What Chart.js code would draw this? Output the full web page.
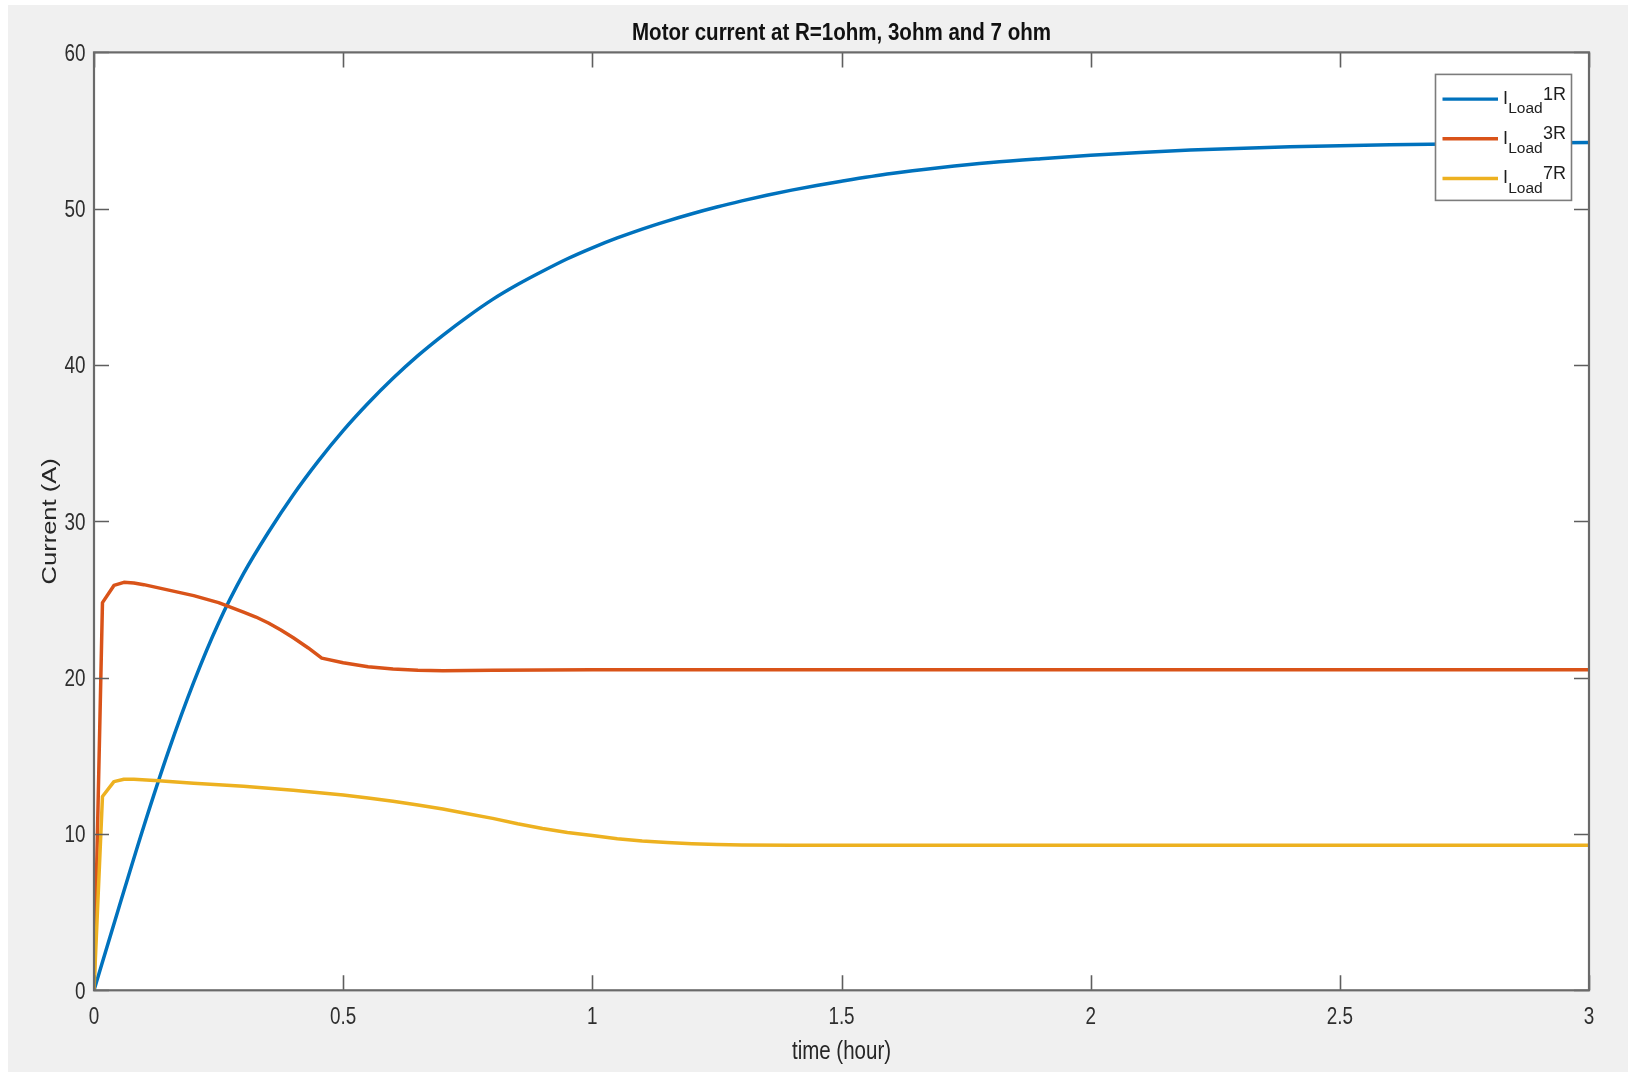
<!DOCTYPE html>
<html>
<head>
<meta charset="utf-8">
<title>Motor current</title>
<script src="https://cdn.jsdelivr.net/npm/chart.js@4.4.1/dist/chart.umd.min.js"></script>
<style>
  html, body { margin: 0; padding: 0; background: #ffffff; overflow: hidden; }
  canvas { display: block; }
</style>
</head>
<body>
<canvas id="chart" width="1628" height="1072"></canvas>
<script>
// Motor current for a load of 1 ohm
const timeR1 = [0, 0.05, 0.1, 0.15, 0.2, 0.25, 0.3, 0.35, 0.4, 0.45, 0.5, 0.55, 0.6, 0.65, 0.7, 0.75,
  0.8, 0.85, 0.9, 0.95, 1.0, 1.05, 1.1, 1.15, 1.2, 1.25, 1.3, 1.35, 1.4, 1.45, 1.5,
  1.6, 1.7, 1.8, 1.9, 2.0, 2.1, 2.2, 2.4, 2.6, 2.8, 3.0];
const currentR1 = [0, 5.3, 10.5, 15.35, 19.7, 23.5, 26.65, 29.3, 31.7, 33.85, 35.8, 37.55, 39.15, 40.6, 41.9, 43.1,
  44.2, 45.15, 46.0, 46.8, 47.5, 48.13, 48.7, 49.21, 49.68, 50.11, 50.5, 50.86, 51.19, 51.49, 51.76,
  52.25, 52.63, 52.95, 53.2, 53.42, 53.6, 53.75, 53.97, 54.1, 54.18, 54.23];

// Motor current for a load of 3 ohm
const timeR3 = [0, 0.017, 0.04, 0.06, 0.08, 0.1, 0.15, 0.2, 0.25, 0.3, 0.325, 0.35, 0.375, 0.4, 0.43, 0.457,
  0.5, 0.55, 0.6, 0.65, 0.7, 0.8, 1.0, 1.5, 2.0, 2.5, 3.0];
const currentR3 = [0, 24.8, 25.9, 26.1, 26.05, 25.95, 25.6, 25.25, 24.8, 24.2, 23.88, 23.5, 23.05, 22.55, 21.9, 21.25,
  20.95, 20.7, 20.55, 20.47, 20.45, 20.48, 20.5, 20.5, 20.5, 20.5, 20.5];

// Motor current for a load of 7 ohm
const timeR7 = [0, 0.017, 0.04, 0.06, 0.08, 0.13, 0.2, 0.3, 0.4, 0.5, 0.55, 0.6, 0.65, 0.7, 0.75, 0.8, 0.85,
  0.9, 0.95, 1.0, 1.05, 1.1, 1.15, 1.2, 1.25, 1.3, 1.4, 1.6, 2.0, 2.5, 3.0];
const currentR7 = [0, 12.4, 13.35, 13.5, 13.5, 13.4, 13.25, 13.05, 12.8, 12.5, 12.3, 12.1, 11.85, 11.6, 11.3, 11.0, 10.65,
  10.35, 10.1, 9.9, 9.7, 9.55, 9.45, 9.38, 9.33, 9.3, 9.28, 9.28, 9.28, 9.28, 9.28];

const seriesSuffix = ['1R', '3R', '7R'];
const seriesColors = ['#0072BD', '#D95319', '#EDB120'];
const xTicks = [0, 0.5, 1, 1.5, 2, 2.5, 3];
const yTicks = [0, 10, 20, 30, 40, 50, 60];
const chartTitle = 'Motor current at R=1ohm, 3ohm and 7 ohm';
const xTitle = 'time (hour)';
const yTitle = 'Current (A)';

const toPoints = (ts, vs) => ts.map((t, i) => ({ x: t, y: vs[i] }));

const SANS = '"Liberation Sans", Arial, Helvetica, sans-serif';

// text drawn with a horizontal compression (figure fonts are condensed)
function condensedText(ctx, text, x, y, font, sx, align, angle) {
  ctx.save();
  ctx.font = font;
  ctx.textAlign = align;
  ctx.textBaseline = 'alphabetic';
  ctx.translate(x, y);
  if (angle) {
    ctx.rotate(angle);
    ctx.scale(1, sx);
  } else {
    ctx.scale(sx, 1);
  }
  ctx.fillText(text, 0, 0);
  ctx.restore();
}

// Figure background, white axes face, boxed axes with inward ticks, labels, legend
const axesFrame = {
  id: 'axesFrame',
  beforeDraw(chart) {
    const { ctx, chartArea: a } = chart;
    ctx.save();
    ctx.fillStyle = '#ffffff';
    ctx.fillRect(0, 0, chart.width, chart.height);
    ctx.fillStyle = '#f0f0f0';
    ctx.fillRect(8, 5, chart.width - 8, chart.height - 5);
    ctx.fillStyle = '#ffffff';
    ctx.fillRect(a.left, a.top, a.right - a.left, a.bottom - a.top);
    ctx.restore();
  },
  afterDatasetsDraw(chart) {
    const { ctx, chartArea: a, scales } = chart;
    const tickLen = 15;
    ctx.save();

    // inward tick marks on all four sides
    ctx.strokeStyle = '#5e5e5e';
    ctx.lineWidth = 1.6;
    ctx.beginPath();
    scales.x.ticks.forEach(t => {
      const px = Math.round(scales.x.getPixelForValue(t.value)) + 0.5;
      ctx.moveTo(px, a.bottom); ctx.lineTo(px, a.bottom - tickLen);
      ctx.moveTo(px, a.top); ctx.lineTo(px, a.top + tickLen);
    });
    scales.y.ticks.forEach(t => {
      const py = Math.round(scales.y.getPixelForValue(t.value)) + 0.5;
      ctx.moveTo(a.left, py); ctx.lineTo(a.left + tickLen, py);
      ctx.moveTo(a.right, py); ctx.lineTo(a.right - tickLen, py);
    });
    ctx.stroke();
    ctx.lineWidth = 2.2;
    ctx.strokeStyle = '#6a6a6a';
    ctx.strokeRect(a.left, a.top, a.right - a.left, a.bottom - a.top);

    // tick labels
    ctx.fillStyle = '#2e2e2e';
    const tickFont = '23px ' + SANS;
    scales.x.ticks.forEach(t => {
      const px = scales.x.getPixelForValue(t.value);
      condensedText(ctx, t.label ?? String(t.value), px, a.bottom + 34, tickFont, 0.82, 'center');
    });
    scales.y.ticks.forEach(t => {
      const py = scales.y.getPixelForValue(t.value);
      condensedText(ctx, t.label ?? String(t.value), a.left - 8.5, py + 8.2, tickFont, 0.82, 'right');
    });

    // axis titles and chart title
    ctx.fillStyle = '#262626';
    const cx = (a.left + a.right) / 2;
    condensedText(ctx, xTitle, cx, a.bottom + 69, '25px ' + SANS, 0.82, 'center');
    condensedText(ctx, yTitle, 56, (a.top + a.bottom) / 2, '25.5px ' + SANS, 0.82, 'center', -Math.PI / 2);
    ctx.fillStyle = '#111111';
    condensedText(ctx, chartTitle, cx, 40, 'bold 24px ' + SANS, 0.855, 'center');

    // legend box in the upper right corner of the axes
    const bw = 136, bh = 126;
    const bx = a.right - 17.5 - bw, by = a.top + 22;
    ctx.fillStyle = '#ffffff';
    ctx.fillRect(bx, by, bw, bh);
    ctx.strokeStyle = '#7c7c7c';
    ctx.lineWidth = 1.6;
    ctx.strokeRect(bx, by, bw, bh);
    seriesSuffix.forEach((s, i) => {
      const ry = by + 24.7 + i * 39.7;
      ctx.strokeStyle = seriesColors[i];
      ctx.lineWidth = 3.4;
      ctx.beginPath();
      ctx.moveTo(bx + 7, ry);
      ctx.lineTo(bx + 62.5, ry);
      ctx.stroke();
      ctx.fillStyle = '#1e1e1e';
      ctx.textBaseline = 'alphabetic';
      ctx.textAlign = 'left';
      let tx = bx + 67.5;
      ctx.font = '18px ' + SANS;
      ctx.fillText('I', tx, ry + 4.8);
      tx += ctx.measureText('I').width + 0.2;
      ctx.font = '15.5px ' + SANS;
      ctx.fillText('Load', tx, ry + 14);
      tx += ctx.measureText('Load').width + 0.3;
      ctx.font = '18px ' + SANS;
      ctx.fillText(s, tx, ry + 0.5);
    });
    ctx.restore();
  }
};

new Chart(document.getElementById('chart'), {
  type: 'line',
  data: {
    datasets: [
      { label: 'ILoad1R', data: toPoints(timeR1, currentR1), borderColor: seriesColors[0], order: 3,
        cubicInterpolationMode: 'monotone' },
      { label: 'ILoad3R', data: toPoints(timeR3, currentR3), borderColor: seriesColors[1], order: 2 },
      { label: 'ILoad7R', data: toPoints(timeR7, currentR7), borderColor: seriesColors[2], order: 1 }
    ]
  },
  options: {
    responsive: false,
    devicePixelRatio: 1,
    animation: false,
    events: [],
    datasets: {
      line: {
        borderWidth: 3.5,
        pointRadius: 0,
        fill: false,
        tension: 0,
        borderCapStyle: 'round',
        borderJoinStyle: 'round'
      }
    },
    layout: { padding: { left: 0, right: 39, top: 52.4, bottom: 0 } },
    plugins: {
      legend: { display: false },
      tooltip: { enabled: false },
      title: { display: false }
    },
    scales: {
      x: {
        type: 'linear',
        min: 0,
        max: 3,
        afterBuildTicks(scale) { scale.ticks = xTicks.map(v => ({ value: v })); },
        afterFit(scale) { scale.height = 81.7; },
        grid: { display: false },
        border: { display: false },
        ticks: { display: false, callback: v => String(v) },
        title: { display: false, text: xTitle }
      },
      y: {
        type: 'linear',
        min: 0,
        max: 60,
        afterBuildTicks(scale) { scale.ticks = yTicks.map(v => ({ value: v })); },
        afterFit(scale) { scale.width = 94; },
        grid: { display: false },
        border: { display: false },
        ticks: { display: false, callback: v => String(v) },
        title: { display: false, text: yTitle }
      }
    }
  },
  plugins: [axesFrame]
});
</script>
</body>
</html>
